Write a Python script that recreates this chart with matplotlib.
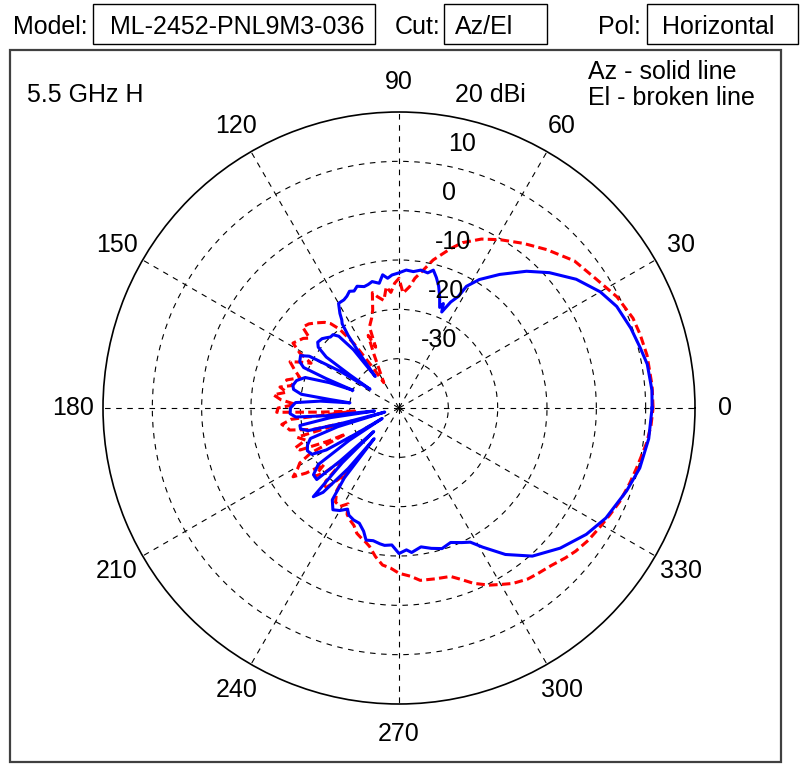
import numpy as np
import matplotlib
matplotlib.use("Agg")
import matplotlib.pyplot as plt
from matplotlib.patches import Rectangle

plt.rcParams['font.family'] = ['Liberation Sans', 'DejaVu Sans']

# header fields
model = "ML-2452-PNL9M3-036"
cut = "Az/El"
pol = "Horizontal"
freq_label = "5.5 GHz H"

# Az cut (solid blue): angle in degrees, gain in dBi
az_deg = [0, 4, 10, 14, 19, 25, 30, 36, 42, 47, 53, 58, 61, 62, 64, 65, 66, 67, 68, 70,
          72, 74, 76, 78, 81, 84, 87, 90, 93, 95, 97, 99, 102, 104, 106, 109, 111, 113, 115, 117,
          120, 122, 123, 124, 125, 126, 127, 128, 130, 132, 134, 136, 138, 141, 143, 145, 146, 147, 148, 150,
          152, 155, 157, 158, 159, 160, 162, 165, 168, 170, 172, 173, 174, 175, 177, 180, 183, 185, 186, 187,
          188, 190, 192, 194, 195, 196, 197, 199, 202, 205, 208, 210, 211, 212, 213, 215, 218, 221, 222, 223,
          224, 226, 228, 230, 231, 232, 234, 237, 240, 243, 245, 248, 251, 254, 256, 259, 262, 264, 267, 270,
          273, 275, 279, 283, 287, 291, 295, 298, 301, 306, 312, 319, 326, 332, 340, 346, 353, 360]
az_db = [11.3, 11.4, 11.1, 10.4, 9.7, 8.7, 7.1, 4.4, 1.0, -2.1, -6.1, -9.3, -11.8, -14.4, -16.1, -17.5, -18.7, -17.0, -18.0, -15.9,
         -14.0, -12.5, -11.2, -12.0, -11.7, -12.2, -12.0, -12.6, -13.0, -13.6, -12.8, -14.4, -13.8, -14.2, -14.4, -13.9, -14.6, -14.3, -15.0, -15.4,
         -15.5, -17.4, -18.7, -19.4, -22.0, -27.0, -32.0, -25.0, -21.0, -20.0, -20.0, -19.5, -19.0, -18.8, -19.5, -22.0, -28.0, -33.0, -26.0, -19.0,
         -17.4, -17.8, -19.0, -24.0, -30.0, -25.0, -20.0, -18.5, -18.0, -18.3, -20.0, -26.0, -30.0, -24.0, -19.0, -18.0, -17.9, -19.0, -25.0, -35.0,
         -26.0, -19.6, -19.6, -21.0, -28.0, -37.0, -27.0, -21.0, -20.0, -19.5, -20.0, -23.0, -30.0, -36.0, -28.0, -20.0, -18.0, -17.9, -24.0, -33.0,
         -24.0, -15.0, -17.0, -24.0, -32.0, -22.0, -17.0, -15.4, -16.0, -17.0, -16.0, -15.5, -15.3, -14.0, -12.4, -12.6, -12.2, -12.0, -12.2, -10.5,
         -11.2, -10.6, -11.5, -10.8, -10.2, -10.8, -9.9, -9.2, -7.1, -3.3, 0.4, 3.3, 5.8, 7.5, 9.1, 10.3, 11.0, 11.3]

# El cut (broken red)
el_deg = [0, 5, 12, 17, 21, 27, 33, 40, 47, 53, 59, 64, 69, 72, 77, 80, 83, 85, 88, 90,
          92, 94, 96, 98, 101, 103, 105, 107, 110, 111, 113, 115, 118, 121, 123, 125, 127, 129, 131, 134,
          137, 140, 142, 144, 146, 148.5, 151, 153, 155, 157, 160, 163, 166, 168, 170, 172, 174, 176, 178, 180,
          182, 183, 184, 186, 188, 190, 191.4, 194, 195, 196, 199, 201, 203, 205, 206, 207, 209, 211, 213, 215,
          217, 219, 221, 223, 225, 227, 229, 231, 233, 236, 239, 242, 244, 246.4, 249, 251.4, 254, 256, 258, 261,
          264, 267, 270, 274, 277, 282, 287, 290, 293, 297, 300, 303, 307, 310, 314, 318, 321, 325, 329, 333,
          337, 342, 346, 352, 356, 360]
el_db = [11.5, 11.5, 11.4, 11.1, 10.8, 9.6, 7.8, 6.4, 3.9, 1.8, -0.2, -1.9, -4.1, -6.0, -9.2, -11.6, -13.5, -15.3, -16.7, -13.7,
         -14.7, -16.5, -15.3, -18.0, -17.0, -16.0, -19.4, -21.0, -22.5, -26.8, -24.0, -28.0, -32.0, -34.0, -30.0, -24.0, -20.0, -18.0, -17.0, -16.0,
         -15.0, -14.5, -17.0, -16.0, -15.5, -14.8, -17.0, -20.0, -18.0, -16.0, -17.5, -19.0, -16.5, -18.0, -15.5, -17.0, -14.4, -16.0, -19.0, -15.5,
         -15.2, -24.0, -31.0, -18.0, -16.0, -17.0, -17.4, -22.0, -28.0, -18.5, -20.0, -17.5, -18.2, -24.0, -28.0, -20.0, -17.0, -16.0, -14.4, -17.0,
         -21.0, -18.0, -20.0, -25.0, -19.0, -17.5, -20.0, -23.0, -19.0, -17.0, -16.7, -18.0, -16.0, -15.2, -14.5, -13.2, -12.5, -12.0, -11.3, -9.5,
         -8.0, -7.5, -6.5, -5.8, -4.8, -4.6, -4.3, -3.0, -1.4, 0.3, 1.3, 2.4, 3.4, 3.8, 4.4, 5.4, 6.1, 6.8, 7.3, 7.9,
         8.6, 9.2, 9.7, 10.7, 11.2, 11.5]

ring_values = [-30, -20, -10, 0, 10, 20]
ring_labels = ["-30", "-20", "-10", "0", "10", "20 dBi"]
angle_ticks = list(range(0, 360, 30))

W, H = 804, 767
fig = plt.figure(figsize=(W / 100, H / 100), dpi=100)

# overlay in pixel units for the header and frame
ov = fig.add_axes([0, 0, 1, 1])
ov.set_xlim(0, W)
ov.set_ylim(H, 0)
ov.axis('off')

fs = 18
ov.add_patch(Rectangle((10, 50), 771, 712, fill=False, ec='#404040', lw=1.6))
ov.add_patch(Rectangle((93, 4), 282, 40, fill=False, ec='k', lw=1.0))
ov.add_patch(Rectangle((444, 4), 103, 40, fill=False, ec='k', lw=1.0))
ov.add_patch(Rectangle((647, 4), 151, 40, fill=False, ec='k', lw=1.0))
ov.text(88, 27, "Model:", ha='right', va='center', fontsize=fs)
ov.text(110, 27, model, ha='left', va='center', fontsize=fs)
ov.text(441, 27, "Cut:", ha='right', va='center', fontsize=fs)
ov.text(455, 27, cut, ha='left', va='center', fontsize=fs)
ov.text(641, 27, "Pol:", ha='right', va='center', fontsize=fs)
ov.text(662, 27, pol, ha='left', va='center', fontsize=fs)
ov.text(27, 95, freq_label, ha='left', va='center', fontsize=fs)
ov.text(588, 72, "Az - solid line", ha='left', va='center', fontsize=fs)
ov.text(588, 98, "El - broken line", ha='left', va='center', fontsize=fs)

# polar axes: center (399, 408) px, radius 296 px
cx, cy, R = 399, 408, 296
ax = fig.add_axes([(cx - R) / W, (H - cy - R) / H, 2 * R / W, 2 * R / H],
                  projection='polar')
ax.set_facecolor('none')
ax.set_theta_zero_location('E')
ax.set_ylim(-40, 20)
ax.set_yticks(ring_values[:-1])
ax.set_yticklabels([])
ax.set_xticks(np.radians(angle_ticks))
ax.set_xticklabels([])
ax.tick_params(length=0)
ax.grid(True, color='k', linestyle=(0, (5, 5)), lw=0.8)
ax.spines['polar'].set_linewidth(1.2)
ax.spines['polar'].set_color('k')

ax.plot(np.radians(el_deg), el_db, color='#ff0000', lw=2.2, linestyle=(0, (2.8, 1.4)))
ax.plot(np.radians(az_deg), az_db, color='#0000ff', lw=2.2)

for a in angle_ticks:
    ax.text(np.radians(a), 26, str(a), ha='center', va='center', fontsize=fs, clip_on=False)

for v, lab in zip(ring_values, ring_labels):
    ax.annotate(lab, xy=(np.radians(82), v), xytext=(11, 14), textcoords='offset points',
                ha='left', va='center', fontsize=fs, annotation_clip=False)

fig.savefig("out.png", dpi=100, facecolor='white')
